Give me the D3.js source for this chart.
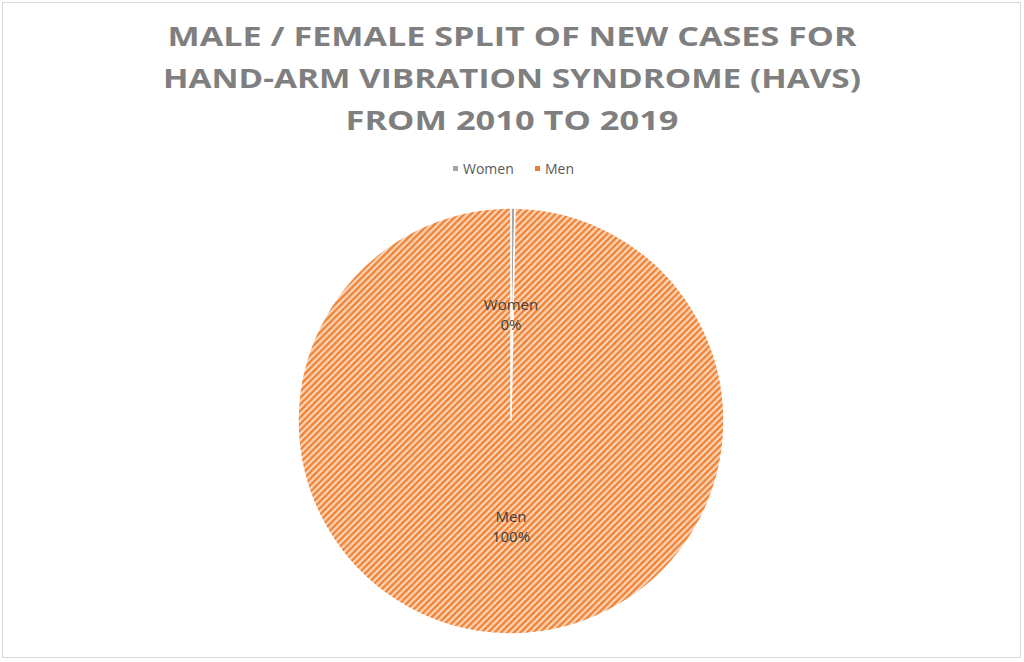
<!DOCTYPE html>
<html>
<head>
<meta charset="utf-8">
<script src="https://cdn.jsdelivr.net/npm/d3@7"></script>
<style>
html,body{margin:0;padding:0;background:#fff;}
svg{display:block;}
</style>
</head>
<body>
<svg id="chart" width="1024" height="662"></svg>
<script>
const titleLines = ["MALE / FEMALE SPLIT OF NEW CASES FOR", "HAND-ARM VIBRATION SYNDROME (HAVS)", "FROM 2010 TO 2019"];
const categories = ["Women", "Men"];
const values = [0.3, 99.7];
const percentLabels = ["0%", "100%"];
const colors = ["#a5a5a5", "#ed7d31"];

const svg = d3.select("#chart");
const W = 1024, H = 662;

svg.append("rect").attr("x", 2.5).attr("y", 2.5).attr("width", 1018).attr("height", 655)
  .attr("fill", "#fff").attr("stroke", "#d9d9d9").attr("stroke-width", 1);

// pattern for Men slice
const defs = svg.append("defs");
const p = 6.5;
const pat = defs.append("pattern").attr("id", "menPat").attr("patternUnits", "userSpaceOnUse")
  .attr("width", p).attr("height", p);
pat.append("rect").attr("width", p).attr("height", p).attr("fill", "#fcdcc5");
pat.append("path").attr("d", `M0,${p} L${p},0 M${-p/2},${p/2} L${p/2},${-p/2} M${p/2},${p*1.5} L${p*1.5},${p/2}`)
  .attr("stroke", "#f08538").attr("stroke-width", 2.6);

// title
const widths = [689, 698, 333];
const baselines = [46, 88, 130];
svg.append("g").selectAll("text").data(titleLines).join("text")
  .attr("x", W/2).attr("y", (d,i) => baselines[i])
  .attr("text-anchor", "middle")
  .attr("font-family", "'Open Sans', sans-serif")
  .attr("font-weight", "bold").attr("font-size", 27)
  .attr("fill", "#7f7f7f")
  .attr("textLength", (d,i) => widths[i]).attr("lengthAdjust", "spacingAndGlyphs")
  .text(d => d);

// legend
const legendX = [453, 535];
const lg = svg.append("g").selectAll("g").data(categories).join("g")
  .attr("transform", (d,i) => `translate(${legendX[i]},169)`);
lg.append("rect").attr("x", 0).attr("y", -3).attr("width", 5).attr("height", 5)
  .attr("fill", (d,i) => colors[i]);
lg.append("text").attr("x", 10).attr("y", 5)
  .attr("font-family", "'Open Sans', sans-serif").attr("font-size", 14)
  .attr("fill", "#595959").text(d => d);

// pie
const cx = 511, cy = 421, r = 213;
const pie = d3.pie().sort(null).value(d => d.v);
const arcs = pie(categories.map((c,i) => ({c, v: values[i], lab: percentLabels[i], i})));
const arc = d3.arc().innerRadius(0).outerRadius(r);
const g = svg.append("g").attr("transform", `translate(${cx},${cy})`);
g.selectAll("path").data(arcs).join("path")
  .attr("d", arc)
  .attr("fill", d => d.data.i === 1 ? "url(#menPat)" : colors[0])
  .attr("stroke", "#fff").attr("stroke-width", 1.5);

const lab = g.selectAll("g.lab").data(arcs).join("g").attr("class", "lab")
  .attr("transform", d => { const c = arc.centroid(d); return `translate(0,${c[1]})`; });
lab.append("text").attr("text-anchor", "middle").attr("y", -5)
  .attr("font-family", "'Open Sans', sans-serif").attr("font-size", 15).attr("fill", "#404040")
  .text(d => d.data.c);
lab.append("text").attr("text-anchor", "middle").attr("y", 15)
  .attr("font-family", "'Open Sans', sans-serif").attr("font-size", 15).attr("fill", "#404040")
  .text(d => d.data.lab);
</script>
</body>
</html>
